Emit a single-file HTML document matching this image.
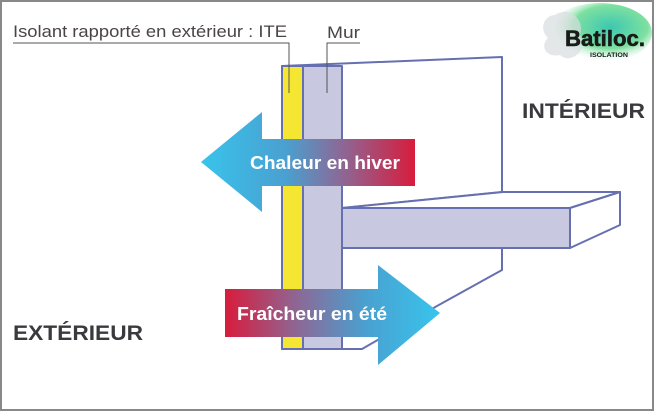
<!DOCTYPE html>
<html><head><meta charset="utf-8"><style>
body{margin:0;width:654px;height:411px;overflow:hidden;background:#fff}
svg{display:block}
text{font-family:"Liberation Sans",sans-serif}
</style></head><body>
<svg width="654" height="411" viewBox="0 0 654 411">
<defs>
<linearGradient id="g1" x1="200" y1="0" x2="415" y2="0" gradientUnits="userSpaceOnUse">
<stop offset="0" stop-color="#38c4ec"/><stop offset="0.4" stop-color="#4aa0d0"/><stop offset="0.65" stop-color="#8a6a98"/><stop offset="1" stop-color="#d81c3c"/></linearGradient>
<linearGradient id="g2" x1="225" y1="0" x2="440" y2="0" gradientUnits="userSpaceOnUse">
<stop offset="0" stop-color="#d81c3c"/><stop offset="0.35" stop-color="#8a6a98"/><stop offset="0.65" stop-color="#4aa0d0"/><stop offset="1" stop-color="#38c4ec"/></linearGradient>
<radialGradient id="lg" cx="0.6" cy="0.4" r="0.6"><stop offset="0" stop-color="#3cc8b0"/><stop offset="0.6" stop-color="#7ee0a0"/><stop offset="1" stop-color="#fff" stop-opacity="0"/></radialGradient>
</defs>
<rect x="1" y="1" width="652" height="409" fill="#fff" stroke="#888" stroke-width="2"/>
<g stroke="#6670b0" stroke-width="2" stroke-linejoin="round">
<polygon points="282,66 502,57 502,192 342,208 342,248 502,248 502,270 437,306 362,349 282,349" fill="#fff"/>
<rect x="282" y="66" width="21" height="283" fill="#f5e632"/>
<rect x="303" y="66" width="39" height="283" fill="#c8c8e0"/>
<polygon points="342,208 503,192 620,192 570,208" fill="#fff"/>
<rect x="342" y="208" width="228" height="40" fill="#c8c8e0"/>
<polygon points="570,208 620,192 620,225 570,248" fill="#fff"/>
</g>
<text x="13" y="37" font-size="17" fill="#4a4446" textLength="274" lengthAdjust="spacingAndGlyphs">Isolant rapporté en extérieur : ITE</text>
<polyline points="13,43 289,43 289,93" fill="none" stroke="#555" stroke-width="1"/>
<text x="327" y="38" font-size="17" fill="#4a4446" textLength="33" lengthAdjust="spacingAndGlyphs">Mur</text>
<polyline points="360,43 327,43 327,93" fill="none" stroke="#555" stroke-width="1"/>
<text x="522" y="118" font-size="21" font-weight="bold" fill="#3a3a3e" textLength="123" lengthAdjust="spacingAndGlyphs">INTÉRIEUR</text>
<text x="13" y="340" font-size="21" font-weight="bold" fill="#3a3a3e" textLength="130" lengthAdjust="spacingAndGlyphs">EXTÉRIEUR</text>
<polygon points="201,162 262,112 262,139 415,139 415,186 262,186 262,212" fill="url(#g1)"/>
<text x="250" y="169" font-size="18" font-weight="bold" fill="#fff" textLength="150" lengthAdjust="spacingAndGlyphs">Chaleur en hiver</text>
<polygon points="225,289 378,289 378,265 440,313 378,365 378,337 225,337" fill="url(#g2)"/>
<text x="237" y="320" font-size="18" font-weight="bold" fill="#fff" textLength="150" lengthAdjust="spacingAndGlyphs">Fraîcheur en été</text>
<ellipse cx="600" cy="33" rx="52" ry="30" fill="url(#lg)"/>
<path d="M555,15 C570,5 585,20 580,35 C590,50 570,65 560,55 C545,58 540,45 548,38 C538,28 545,15 555,15Z" fill="#d8dde0" opacity="0.7"/>
<text x="565" y="46" font-size="22" font-weight="bold" fill="#1a1a1a" textLength="80" lengthAdjust="spacingAndGlyphs" stroke="#1a1a1a" stroke-width="0.6">Batiloc.</text>
<text x="590" y="57" font-size="6" font-weight="bold" fill="#1a1a1a" textLength="38" lengthAdjust="spacingAndGlyphs">ISOLATION</text>
</svg>
</body></html>
